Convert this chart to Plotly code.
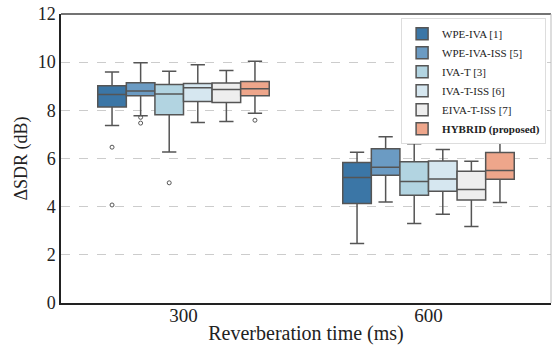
import plotly.graph_objects as go

categories = ["300", "600"]
methods = ["WPE-IVA [1]", "WPE-IVA-ISS [5]", "IVA-T [3]", "IVA-T-ISS [6]", "EIVA-T-ISS [7]", "<b>HYBRID (proposed)</b>"]
colors = ["#3b76a6", "#6b9bc3", "#b2d4e1", "#d6e7f0", "#eeeeee", "#eea68b"]

# per method: values for [300 ms, 600 ms]
lower_fence = [[7.37, 2.47], [7.78, 4.19], [6.27, 3.30], [7.50, 3.69], [7.54, 3.18], [7.88, 4.17]]
q1_vals     = [[8.14, 4.13], [8.61, 5.30], [7.82, 4.47], [8.37, 4.64], [8.33, 4.28], [8.61, 5.14]]
medians     = [[8.66, 5.21], [8.80, 5.64], [8.68, 5.04], [8.94, 5.15], [8.86, 4.71], [8.90, 5.50]]
q3_vals     = [[9.02, 5.83], [9.15, 6.40], [9.07, 5.87], [9.11, 5.90], [9.13, 5.47], [9.20, 6.25]]
upper_fence = [[9.59, 6.26], [9.98, 6.90], [9.62, 6.61], [9.89, 6.37], [9.65, 5.89], [10.04, 6.90]]
outliers    = [[[6.47, 4.07], []], [[7.71, 7.47], []], [[4.99], []], None, None, [[7.59], []]]

font_family = "Liberation Serif"
edge = "#555555"

fig = go.Figure()
for i, m in enumerate(methods):
    kw = {}
    if outliers[i] is not None:
        kw["y"] = outliers[i]
        kw["boxpoints"] = "outliers"
    else:
        kw["boxpoints"] = False
    fig.add_trace(go.Box(
        name=m,
        x=categories,
        q1=q1_vals[i], median=medians[i], q3=q3_vals[i],
        lowerfence=lower_fence[i], upperfence=upper_fence[i],
        fillcolor=colors[i],
        line=dict(color=edge, width=1.5),
        whiskerwidth=0.5,
        marker=dict(symbol="circle-open", color=edge, size=4, line=dict(width=1)),
        offsetgroup=str(i),
        **kw,
    ))

fig.update_layout(
    width=553, height=347,
    margin=dict(l=61, r=1.5, t=13.5, b=44),
    paper_bgcolor="white", plot_bgcolor="white",
    boxmode="group", boxgap=0.3, boxgroupgap=0.0,
    font=dict(family=font_family, size=17, color="#222222"),
    showlegend=True,
    legend=dict(
        x=0.99, y=0.985, xanchor="right", yanchor="top",
        bgcolor="white", bordercolor="#dddddd", borderwidth=1,
        font=dict(family=font_family, size=11, color="#222222"),
        tracegroupgap=0, itemwidth=30,
    ),
)
fig.update_xaxes(
    type="category", range=[-0.5, 1.5],
    showline=True, linecolor="#222222", linewidth=1.5, mirror=False,
    showgrid=False, ticks="",
    title=dict(text="Reverberation time (ms)", font=dict(size=20), standoff=1),
    tickfont=dict(size=19), ticklabelstandoff=-6,
)
fig.update_yaxes(
    range=[0, 12], tickvals=[0, 2, 4, 6, 8, 10, 12],
    showline=True, linecolor="#222222", linewidth=1.5,
    showgrid=True, gridcolor="#cccccc", griddash="dash", gridwidth=1,
    zeroline=False, ticks="",
    title=dict(text="ΔSDR (dB)", font=dict(size=18), standoff=5),
    tickfont=dict(size=18),
)
# frame: dark top edge, light right edge
fig.add_shape(type="line", xref="paper", yref="paper", x0=0, x1=1, y0=1, y1=1,
              line=dict(color="#444444", width=1.5))
fig.add_shape(type="line", xref="paper", yref="paper", x0=1, x1=1, y0=0, y1=1,
              line=dict(color="#bbbbbb", width=1))

fig.write_html("out.html")
